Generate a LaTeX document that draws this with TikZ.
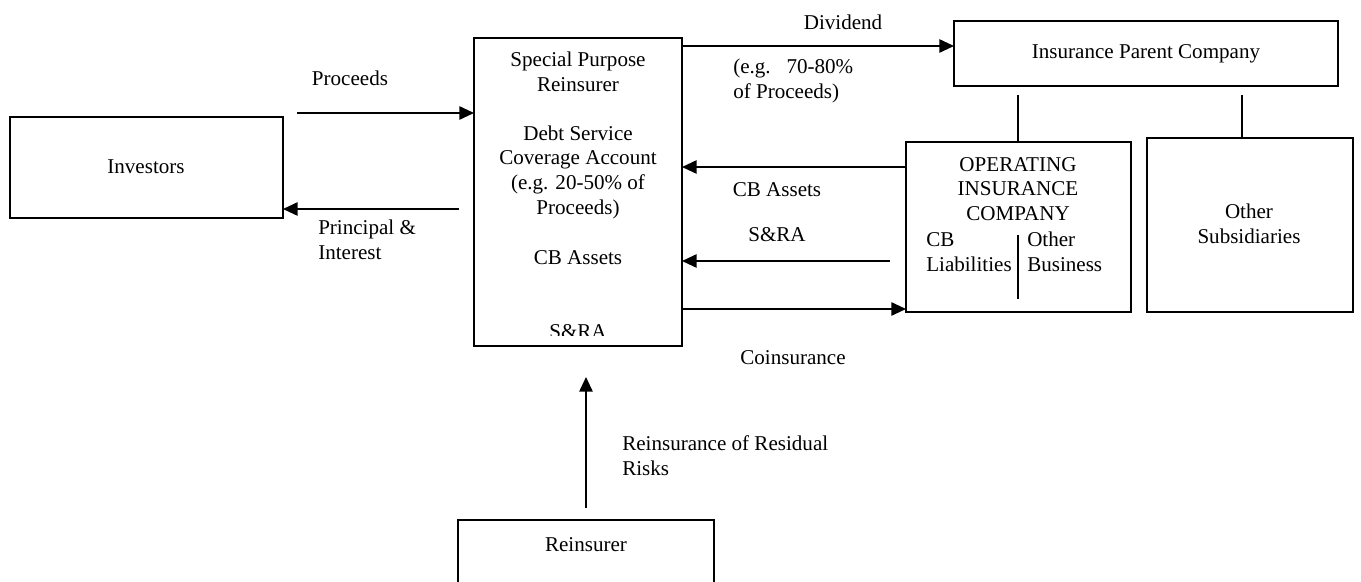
\documentclass[tikz,border=0pt]{standalone}
\usepackage{fontspec}
\setmainfont{Liberation Serif}
\usetikzlibrary{arrows.meta}

\tikzset{
  boxline/.style={line width=1.4pt},
  flow/.style={line width=1.3pt, -{Triangle[length=11pt,width=10pt]}},
  txt/.style={font=\fontsize{15.8}{18.5}\selectfont, inner sep=0pt, align=center},
  ltxt/.style={txt, align=left, anchor=west}
}

\begin{document}
\begin{tikzpicture}[x=0.75pt,y=-0.75pt]
        \clip (0,0) rectangle (1361,582);

        % boxes
        \coordinate (invTL) at (10,117);
        \coordinate (invBR) at (283,218);
        \draw[boxline] (invTL) rectangle (invBR);

        \coordinate (sprTL) at (474,38);
        \coordinate (sprBR) at (682,346);
        \draw[boxline] (sprTL) rectangle (sprBR);

        \coordinate (parTL) at (954,21);
        \coordinate (parBR) at (1338,86);
        \draw[boxline] (parTL) rectangle (parBR);

        \coordinate (opcTL) at (906,142);
        \coordinate (opcBR) at (1131,312);
        \draw[boxline] (opcTL) rectangle (opcBR);

        \coordinate (othTL) at (1147,138);
        \coordinate (othBR) at (1353,312);
        \draw[boxline] (othTL) rectangle (othBR);

        \coordinate (reiTL) at (458,520);
        \coordinate (reiBR) at (714,600);
        \draw[boxline] (reiTL) rectangle (reiBR);

        % box texts
        \node[txt] (inv) at (146,167) {Investors};
        \node[txt] (spr) at (578,72) {Special Purpose\\Reinsurer};
        \node[txt] (dsca) at (578,172) {Debt Service\\Coverage Account\\(e.g. 20-50\% of\\Proceeds)};
        \node[txt] (sprcb) at (578,258) {CB Assets};
        \begin{scope}
          \clip (474,38) rectangle (682,335.5);
          \node[txt, anchor=base] (sprsra) at (578,338) {S\&RA};
        \end{scope}
        \node[txt] (par) at (1146,54) {Insurance Parent Company};
        \node[txt] (opc) at (1018,189) {OPERATING\\INSURANCE\\COMPANY};
        \node[ltxt] (cbl) at (926,252) {CB\\Liabilities};
        \node[ltxt] (oth) at (1027,252) {Other\\Business};
        \node[txt] (sub) at (1249,224) {Other\\Subsidiaries};
        \node[txt] (rei) at (586,545) {Reinsurer};

        \draw[line width=1.2pt] (1018,235) -- (1018,299);

        % parent links
        \draw[line width=1.2pt] (1018,95) -- (1018,142);
        \draw[line width=1.2pt] (1242,95) -- (1242,138);

        % flows
        \coordinate (procS) at (297,113);
        \coordinate (procE) at (474,113);
        \draw[flow] (procS) -- (procE);
        \node[txt] (proc) at (350,78) {Proceeds};

        \coordinate (piS) at (459,209);
        \coordinate (piE) at (283,209);
        \draw[flow] (piS) -- (piE);
        \node[ltxt] (pi) at (318,240) {Principal \&\\Interest};

        \coordinate (divS) at (682,46);
        \coordinate (divE) at (954,46);
        \draw[flow] (divS) -- (divE);
        \node[txt] (div) at (843,22) {Dividend};
        \node[ltxt] (divpct) at (733,81) {(e.g.\ \ \ 70-80\%\\of Proceeds)};

        \coordinate (cbS) at (906,167);
        \coordinate (cbE) at (682,167);
        \draw[flow] (cbS) -- (cbE);
        \node[txt] (cb) at (777,190) {CB Assets};

        \coordinate (sraS) at (890,261);
        \coordinate (sraE) at (682,261);
        \draw[flow] (sraS) -- (sraE);
        \node[txt] (sra) at (777,235) {S\&RA};

        \coordinate (coS) at (682,309);
        \coordinate (coE) at (906,309);
        \draw[flow] (coS) -- (coE);
        \node[txt] (co) at (793,358) {Coinsurance};

        \coordinate (rrS) at (586,508);
        \coordinate (rrE) at (586,377);
        \draw[flow] (rrS) -- (rrE);
        \node[ltxt] (rr) at (622,456) {Reinsurance of Residual\\Risks};
\end{tikzpicture}
\end{document}
